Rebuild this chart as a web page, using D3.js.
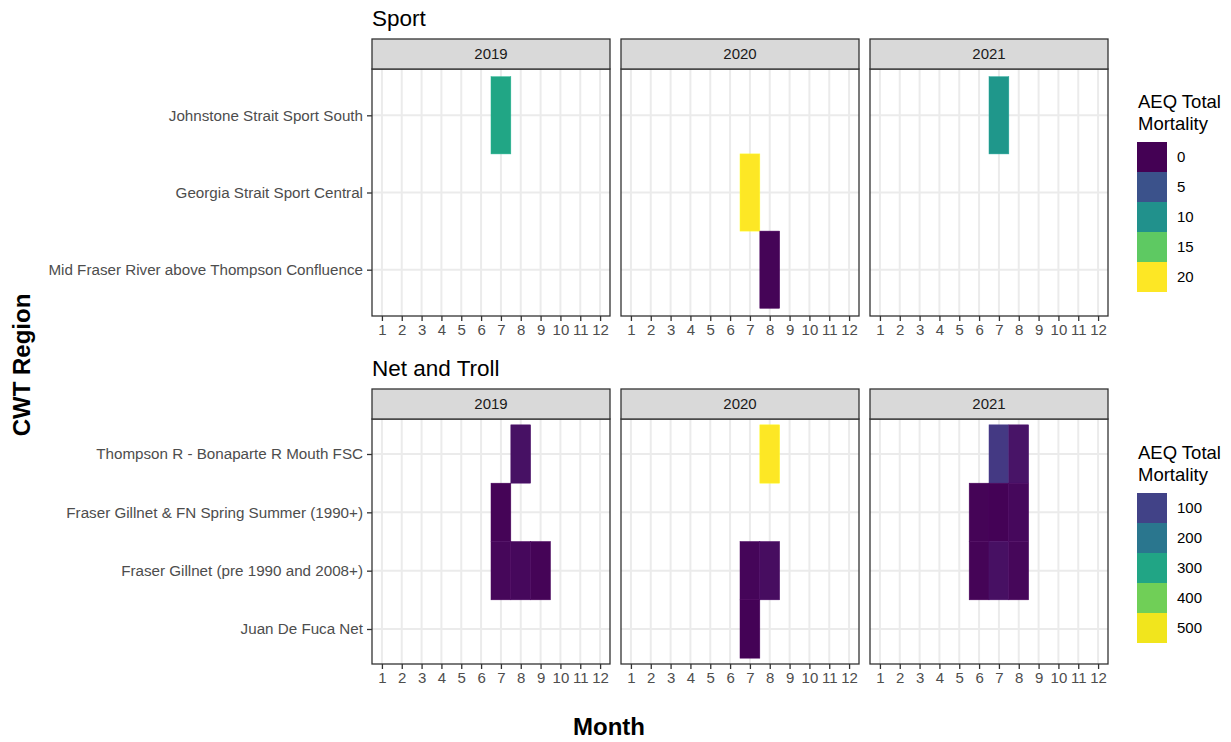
<!DOCTYPE html>
<html>
<head>
<meta charset="utf-8">
<script src="https://cdn.jsdelivr.net/npm/d3@7"></script>
<style>
  body { margin: 0; background: #fff; }
  svg { display: block; font-family: "Liberation Sans", Arial, sans-serif; }
</style>
</head>
<body>
<svg id="chart" width="1231" height="742"></svg>
<script>
// ---- data ----
const months = [1, 2, 3, 4, 5, 6, 7, 8, 9, 10, 11, 12];
const years = ["2019", "2020", "2021"];

const sportRegions = [
  "Johnstone Strait Sport South",
  "Georgia Strait Sport Central",
  "Mid Fraser River above Thompson Confluence"
];
const netRegions = [
  "Thompson R - Bonaparte R Mouth FSC",
  "Fraser Gillnet & FN Spring Summer (1990+)",
  "Fraser Gillnet (pre 1990 and 2008+)",
  "Juan De Fuca Net"
];

// AEQ total mortality per region / year / month
const sportTiles = [
  { region: "Johnstone Strait Sport South", year: "2019", month: 7, value: 11.8 },
  { region: "Johnstone Strait Sport South", year: "2021", month: 7, value: 10.6 },
  { region: "Georgia Strait Sport Central", year: "2020", month: 7, value: 20.4 },
  { region: "Mid Fraser River above Thompson Confluence", year: "2020", month: 8, value: 0.2 }
];
const netTiles = [
  { region: "Thompson R - Bonaparte R Mouth FSC", year: "2019", month: 8, value: 22 },
  { region: "Fraser Gillnet & FN Spring Summer (1990+)", year: "2019", month: 7, value: 4 },
  { region: "Fraser Gillnet (pre 1990 and 2008+)", year: "2019", month: 7, value: 8 },
  { region: "Fraser Gillnet (pre 1990 and 2008+)", year: "2019", month: 8, value: 10 },
  { region: "Fraser Gillnet (pre 1990 and 2008+)", year: "2019", month: 9, value: 4 },
  { region: "Thompson R - Bonaparte R Mouth FSC", year: "2020", month: 8, value: 510 },
  { region: "Fraser Gillnet (pre 1990 and 2008+)", year: "2020", month: 7, value: 6 },
  { region: "Fraser Gillnet (pre 1990 and 2008+)", year: "2020", month: 8, value: 16 },
  { region: "Juan De Fuca Net", year: "2020", month: 7, value: 2 },
  { region: "Thompson R - Bonaparte R Mouth FSC", year: "2021", month: 7, value: 85 },
  { region: "Thompson R - Bonaparte R Mouth FSC", year: "2021", month: 8, value: 26 },
  { region: "Fraser Gillnet & FN Spring Summer (1990+)", year: "2021", month: 6, value: 4 },
  { region: "Fraser Gillnet & FN Spring Summer (1990+)", year: "2021", month: 7, value: 2 },
  { region: "Fraser Gillnet & FN Spring Summer (1990+)", year: "2021", month: 8, value: 10 },
  { region: "Fraser Gillnet (pre 1990 and 2008+)", year: "2021", month: 6, value: 5 },
  { region: "Fraser Gillnet (pre 1990 and 2008+)", year: "2021", month: 7, value: 20 },
  { region: "Fraser Gillnet (pre 1990 and 2008+)", year: "2021", month: 8, value: 8 }
];

const sportBreaks = [0, 5, 10, 15, 20];
const netBreaks = [100, 200, 300, 400, 500];

// ---- layout ----
const svg = d3.select("#chart");
const panelLeft = [372, 621, 870];
const panelW = 238;
const AXIS_TEXT = "#4D4D4D";
const DARK = "#333333";
const FONT = "Liberation Sans, Arial, sans-serif";

const x = d3.scaleLinear().domain([0.5, 12.5]).range([0, panelW]);

function drawBlock(cfg) {
  const { title, regions, tiles, top, panelH, color, breaks, legendTop } = cfg;
  const stripH = 30;
  const panelTop = top + stripH;

  const y = d3.scalePoint().domain(regions).range([0, panelH]).padding(0.6);
  const step = y.step();

  svg.append("text")
    .attr("x", panelLeft[0]).attr("y", top - 13)
    .attr("font-size", 22.5).attr("fill", "#000")
    .text(title);

  years.forEach((yr, i) => {
    const g = svg.append("g").attr("transform", `translate(${panelLeft[i]},${panelTop})`);

    // strip
    svg.append("rect")
      .attr("x", panelLeft[i]).attr("y", top)
      .attr("width", panelW).attr("height", stripH)
      .attr("fill", "#D9D9D9").attr("stroke", DARK).attr("stroke-width", 1.3);
    svg.append("text")
      .attr("x", panelLeft[i] + panelW / 2).attr("y", top + stripH / 2)
      .attr("dy", "0.35em").attr("text-anchor", "middle")
      .attr("font-size", 15).attr("fill", "#1A1A1A")
      .text(yr);

    // grid
    g.append("g").selectAll("line.v").data(months).join("line")
      .attr("x1", d => x(d)).attr("x2", d => x(d))
      .attr("y1", 0).attr("y2", panelH)
      .attr("stroke", "#EBEBEB").attr("stroke-width", 2);
    g.append("g").selectAll("line.h").data(regions).join("line")
      .attr("x1", 0).attr("x2", panelW)
      .attr("y1", d => y(d)).attr("y2", d => y(d))
      .attr("stroke", "#EBEBEB").attr("stroke-width", 2);

    // tiles
    g.append("g").selectAll("rect").data(tiles.filter(t => t.year === yr)).join("rect")
      .attr("x", d => x(d.month - 0.5))
      .attr("width", x(1.5) - x(0.5))
      .attr("y", d => y(d.region) - step / 2)
      .attr("height", step)
      .attr("fill", d => color(d.value))
      .attr("stroke", d => d3.color(color(d.value)).brighter(0.25))
      .attr("stroke-width", 0.5);

    // border
    g.append("rect")
      .attr("width", panelW).attr("height", panelH)
      .attr("fill", "none").attr("stroke", DARK).attr("stroke-width", 1.3);

    // x axis
    const xa = g.append("g").attr("transform", `translate(0,${panelH})`)
      .call(d3.axisBottom(x).tickValues(months).tickSize(5).tickPadding(3).tickFormat(d3.format("d")));
    xa.select(".domain").remove();
    xa.selectAll("line").attr("stroke", DARK).attr("stroke-width", 1.3);
    xa.selectAll("text").attr("font-size", 15).attr("fill", AXIS_TEXT).attr("font-family", FONT);

    // y axis on first panel
    if (i === 0) {
      const ya = g.append("g")
        .call(d3.axisLeft(y).tickSize(5).tickPadding(4));
      ya.select(".domain").remove();
      ya.selectAll("line").attr("stroke", DARK).attr("stroke-width", 1.3);
      ya.selectAll("text").attr("font-size", 15.2).attr("fill", AXIS_TEXT).attr("font-family", FONT);
    }
  });

  // legend
  const lg = svg.append("g").attr("transform", `translate(1137,${legendTop})`);
  lg.append("text").attr("x", 1).attr("y", 0).attr("font-size", 18.5).attr("fill", "#000").text("AEQ Total");
  lg.append("text").attr("x", 1).attr("y", 22).attr("font-size", 18.5).attr("fill", "#000").text("Mortality");
  const keys = lg.append("g").attr("transform", "translate(0,34)");
  keys.selectAll("rect").data(breaks).join("rect")
    .attr("x", 0).attr("y", (d, k) => k * 30)
    .attr("width", 30).attr("height", 30)
    .attr("fill", d => color(d));
  keys.selectAll("text").data(breaks).join("text")
    .attr("x", 40).attr("y", (d, k) => k * 30 + 15).attr("dy", "0.35em")
    .attr("font-size", 15).attr("fill", "#000")
    .text(d => d);
}

const sportColor = d3.scaleSequential(d3.interpolateViridis)
  .domain([0, 20]);
const netColor = d3.scaleSequential(d3.interpolateViridis)
  .domain([0, 510]).clamp(true);

drawBlock({
  title: "Sport", regions: sportRegions, tiles: sportTiles,
  top: 39, panelH: 247, color: sportColor, breaks: sportBreaks, legendTop: 108
});
drawBlock({
  title: "Net and Troll", regions: netRegions, tiles: netTiles,
  top: 389, panelH: 245, color: netColor, breaks: netBreaks, legendTop: 459
});

// axis titles
svg.append("text")
  .attr("x", 609).attr("y", 735).attr("text-anchor", "middle")
  .attr("font-size", 24).attr("font-weight", "bold").attr("fill", "#000")
  .text("Month");
svg.append("text")
  .attr("transform", "translate(30,365) rotate(-90)")
  .attr("text-anchor", "middle")
  .attr("font-size", 24).attr("font-weight", "bold").attr("fill", "#000")
  .text("CWT Region");
</script>
</body>
</html>
